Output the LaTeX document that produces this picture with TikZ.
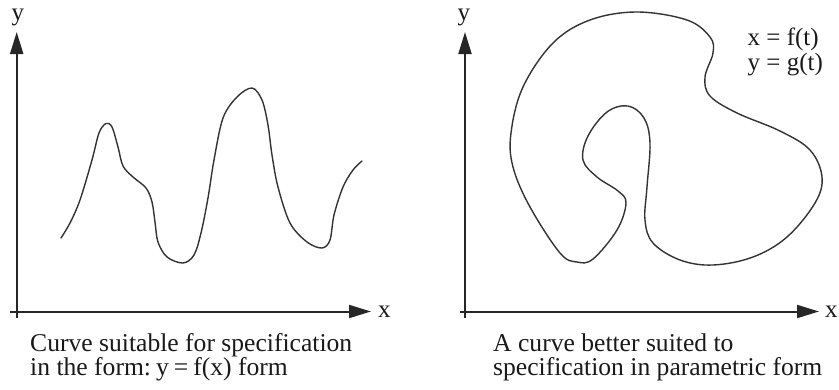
\documentclass[tikz,border=0pt]{standalone}
\usepackage{fontspec}
\setmainfont{Liberation Serif}
\usetikzlibrary{arrows.meta}
\begin{document}
\begin{tikzpicture}[x=1pt,y=-1pt,
  axis/.style={line width=2pt,draw=black!85,-{Triangle[length=22pt,width=13pt]}},
  curve/.style={line width=1.4pt,draw=black!80,line cap=round,line join=round},
  lbl/.style={inner sep=0pt,anchor=base west,font=\fontsize{25}{25}\selectfont,text=black!90},
  captxt/.style={inner sep=0pt,anchor=base west,font=\fontsize{25.6}{25.6}\selectfont,text=black!90}]
\useasboundingbox (0,0) rectangle (839,389);
% left axes
\coordinate (ly0) at (16.7,318);
\coordinate (ly1) at (16.7,32);
\coordinate (lx0) at (10,311.5);
\coordinate (lx1) at (371,311.5);
\draw[axis] (ly0) -- (ly1);
\draw[axis] (lx0) -- (lx1);
\node[lbl] (ylab1) at (11.5,20) {y};
\node[lbl] (xlab1) at (378,317) {x};
% right axes
\coordinate (ry0) at (465,318);
\coordinate (ry1) at (465,32);
\coordinate (rx0) at (460,311.5);
\coordinate (rx1) at (819,311.5);
\draw[axis] (ry0) -- (ry1);
\draw[axis] (rx0) -- (rx1);
\node[lbl] (ylab2) at (457.5,20) {y};
\node[lbl] (xlab2) at (825,317) {x};
% left curve
\draw[curve] plot[smooth,tension=0.55] coordinates {
 (61,238) (70,223) (80,200) (92,160) (99,133) (106,123.5) (112,127)
 (118,147) (123,166) (133,177) (146,188) (152,202) (155,222) (158,242)
 (167,257) (183,263) (194,255) (201,233) (208,198) (214,160) (223,118)
 (237,97) (252,88) (262,100) (268,125) (272,155) (278,187) (290,223)
 (307,242) (322,248) (330,240) (334,215) (343,187) (353,170) (362,161)};
% right closed curve
\draw[curve] plot[smooth cycle,tension=0.6] coordinates {
 (637,12) (687,20) (710,37) (713,53) (705,77) (710,96) (737,113)
 (780,131) (810,150) (822,177) (815,203) (787,237) (753,257) (713,265)
 (680,260) (653,243) (645,220) (647,187) (650,143) (644,118) (628,106)
 (607,112) (588,136) (583,160) (597,177) (618,191) (626,203) (617,230)
 (593,259) (577,262) (560,253) (530,207) (513,167) (511,133) (523,87)
 (553,43) (590,20)};
\node[lbl] (eqx) at (747.5,45) {x = f(t)};
\node[lbl] (eqy) at (747.5,70) {y = g(t)};
% captions
\node[captxt] (c1a) at (30,351.5) {Curve suitable for specification};
\node[captxt] (c1b) at (30,375) {in the form:\hspace{5pt}y\hspace{5pt}=\hspace{5pt}f(x) form};
\node[captxt] (c2a) at (493,351.5) {A curve better suited to};
\node[captxt] (c2b) at (493,375) {specification in parametric form};
\end{tikzpicture}
\end{document}
